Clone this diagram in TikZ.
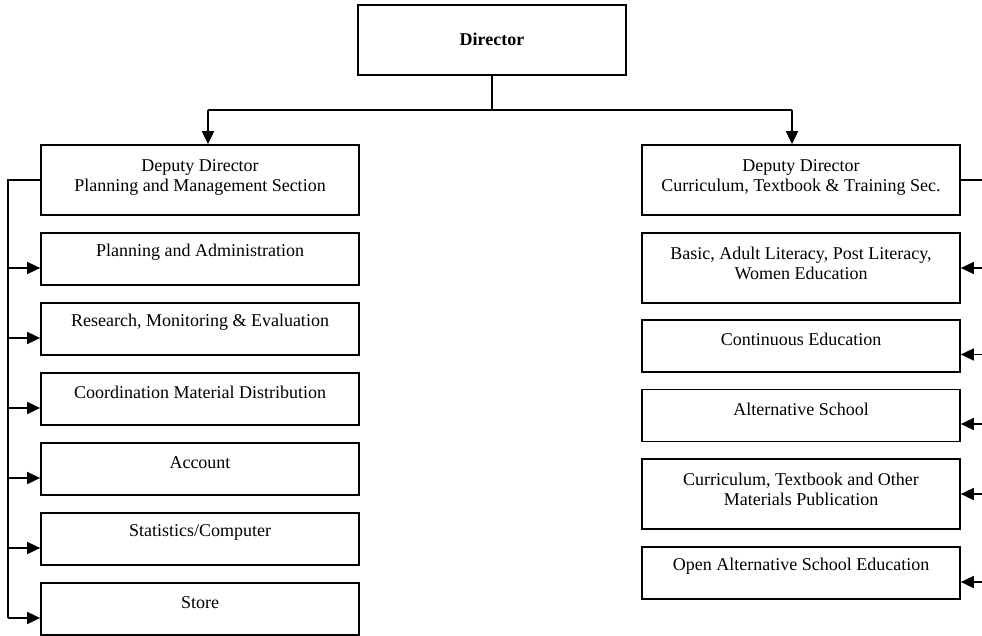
\documentclass[tikz,border=0pt]{standalone}
\usepackage{fontspec}
\setmainfont{Liberation Serif}
\usetikzlibrary{arrows.meta,positioning,calc}
\begin{document}
\begin{tikzpicture}[x=1pt,y=-1pt,
  box/.style={draw, line width=1.7pt, rectangle, inner sep=0pt, minimum width=318pt},
  sbox/.style={box, minimum height=52pt},
  tbox/.style={box, minimum height=70pt},
  txt/.style={font=\fontsize{18}{20}\selectfont, align=center, inner sep=0pt},
  ln/.style={line width=1.7pt},
  arr/.style={ln, -{Triangle[length=13pt,width=12pt]}},
]
\useasboundingbox (0,0) rectangle (982,636);

% Director
\node[box, minimum width=268pt, minimum height=70pt] (dir) at (492,40) {};
\node[txt, font=\fontsize{18}{20}\selectfont\bfseries] (dirt) at ([yshift=1pt]dir.center) {Director};

% Deputies
\node[tbox] (ldep) at (200,180) {};
\node[txt] (ldept) at ([yshift=3pt]ldep.center) {Deputy Director\\Planning and Management Section};
\node[tbox] (rdep) at (801,180) {};
\node[txt] (rdept) at ([yshift=3pt]rdep.center) {Deputy Director\\Curriculum, Textbook \& Training Sec.};

% Left sub-boxes
\node[sbox] (l1) at (200,259) {};
\node[txt] (l1t) at ([yshift=6.5pt]l1.center) {Planning and Administration};
\node[sbox] (l2) at (200,329) {};
\node[txt] (l2t) at ([yshift=6.5pt]l2.center) {Research, Monitoring \& Evaluation};
\node[sbox] (l3) at (200,399) {};
\node[txt] (l3t) at ([yshift=6.5pt]l3.center) {Coordination Material Distribution};
\node[sbox] (l4) at (200,469) {};
\node[txt] (l4t) at ([yshift=6.5pt]l4.center) {Account};
\node[sbox] (l5) at (200,539) {};
\node[txt] (l5t) at ([yshift=6.5pt]l5.center) {Statistics/Computer};
\node[sbox] (l6) at (200,609) {};
\node[txt] (l6t) at ([yshift=6.5pt]l6.center) {Store};

% Right sub-boxes
\node[tbox] (r1) at (801,268) {};
\node[txt] (r1t) at ([yshift=5pt]r1.center) {Basic, Adult Literacy, Post Literacy,\\Women Education};
\node[sbox] (r2) at (801,346) {};
\node[txt] (r2t) at ([yshift=6.5pt]r2.center) {Continuous Education};
\node[sbox] (r3) at (801,415.5) {};
\node[txt] (r3t) at ([yshift=6.5pt]r3.center) {Alternative School};
\node[tbox] (r4) at (801,494) {};
\node[txt] (r4t) at ([yshift=4.5pt]r4.center) {Curriculum, Textbook and Other\\Materials Publication};
\node[sbox] (r5) at (801,573) {};
\node[txt] (r5t) at ([yshift=6.5pt]r5.center) {Open Alternative School Education};

% Top connectors
\coordinate (j) at (492,110);
\coordinate (jl) at (208,110);
\coordinate (jr) at (792,110);
\draw[ln] (dir.south) -- (j);
\draw[ln] (jl) -- (jr);
\draw[arr] (jl) -- (jl |- ldep.north);
\draw[arr] (jr) -- (jr |- rdep.north);

% Left bus
\coordinate (lb) at (8,180);
\coordinate (lbe) at (8,618);
\draw[ln] (ldep.west) -- (lb) -- (lbe);
\foreach \b in {l1,l2,l3,l4,l5,l6}{
  \coordinate (a\b) at ($(\b.west)+(0,9)$);
  \draw[arr] (lb |- a\b) -- (a\b);
}

% Right bus
\coordinate (rb) at (985,180);
\coordinate (rbe) at (985,582);
\draw[ln] (rdep.east) -- (rb) -- (rbe);
\coordinate (ar1) at (r1.east);
\coordinate (ar2) at ($(r2.east)+(0,8.5)$);
\coordinate (ar3) at ($(r3.east)+(0,8.5)$);
\coordinate (ar4) at (r4.east);
\coordinate (ar5) at ($(r5.east)+(0,9)$);
\foreach \b in {ar1,ar2,ar3,ar4,ar5}{
  \draw[arr] (rb |- \b) -- (\b);
}
\end{tikzpicture}
\end{document}
